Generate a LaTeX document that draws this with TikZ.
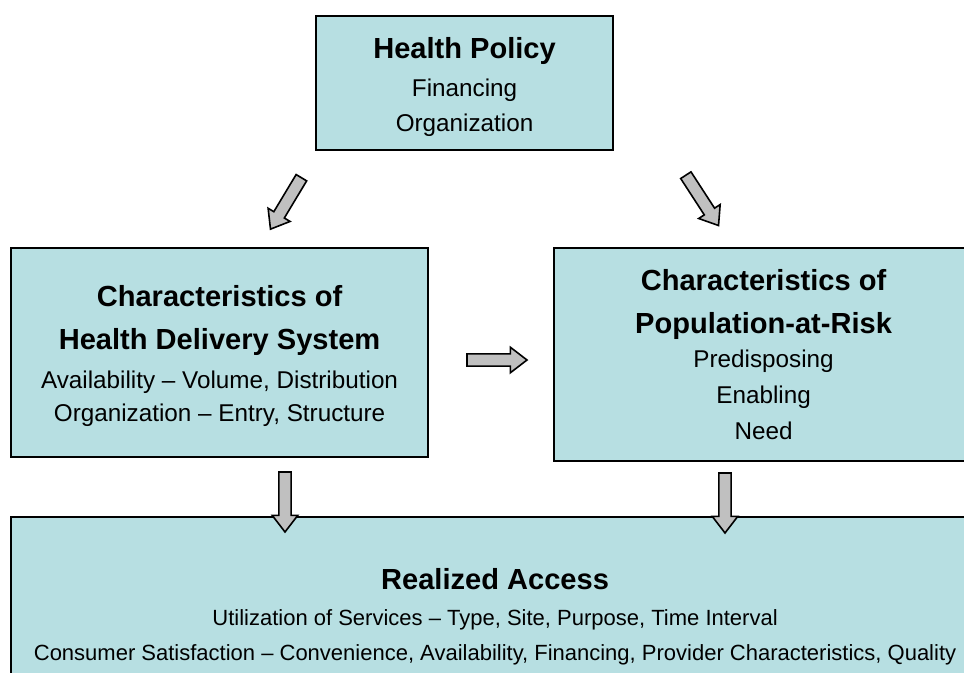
\documentclass[tikz,border=0pt]{standalone}
\usepackage{fontspec}
\setmainfont{Liberation Sans}
\usetikzlibrary{shapes.arrows}

\definecolor{boxblue}{RGB}{183,223,226}
\definecolor{arrowgray}{RGB}{192,192,192}

\tikzset{
    box/.style={draw=black, line width=1.6pt, fill=boxblue, align=center, inner sep=0pt, anchor=north west, font=\fontsize{18.2}{25}\selectfont},
    blockarrow/.style={single arrow, draw=black, line width=1.2pt, fill=arrowgray, minimum height=45pt, inner xsep=0pt, inner ysep=4pt, single arrow head extend=5pt, single arrow tip angle=75},
}
\newcommand{\boxtitle}[1]{{\fontsize{21.8}{25}\selectfont\bfseries #1}}

\begin{document}
\begin{tikzpicture}[x=0.75pt, y=-0.75pt]
    \useasboundingbox (0,0) rectangle (964,672);
    \clip (0,0) rectangle (964,672);

    \node[box, minimum width=222.75pt, minimum height=100.5pt] (policy) at (315,15)
        {\rule{0pt}{21.5pt}\boxtitle{Health Policy}\\[3.5pt] Financing\\[1.25pt] Organization};

    \node[box, minimum width=312.75pt, minimum height=156.75pt] (delivery) at (10,247)
        {\rule{0pt}{21pt}\boxtitle{Characteristics of}\\[7.25pt] \boxtitle{Health Delivery System}\\[4.25pt]
         Availability -- Volume, Distribution\\ Organization -- Entry, Structure};

    \node[box, minimum width=314.25pt, minimum height=159.75pt] (population) at (553,247)
        {\boxtitle{Characteristics of}\\[7.25pt] \boxtitle{Population-at-Risk}\\[0.5pt]
         Predisposing\\[2pt] Enabling\\[2pt] Need};

    \node[box, minimum width=726pt, minimum height=150pt, font=\fontsize{16.5}{26.25}\selectfont] (access) at (10,516)
        {\boxtitle{Realized Access}\\[0.75pt]
         Utilization of Services -- Type, Site, Purpose, Time Interval\\
         Consumer Satisfaction -- Convenience, Availability, Financing, Provider Characteristics, Quality};

    % block arrows between the boxes
    \node[blockarrow, rotate=239] (arrL) at (288,200) {};
    \node[blockarrow, rotate=-57] (arrR) at (700,197) {};
    \node[blockarrow] (arrM) at (493,360) {};
    \node[blockarrow, rotate=270] (arrDL) at (285,498) {};
    \node[blockarrow, rotate=270] (arrDR) at (725,499) {};
\end{tikzpicture}
\end{document}
